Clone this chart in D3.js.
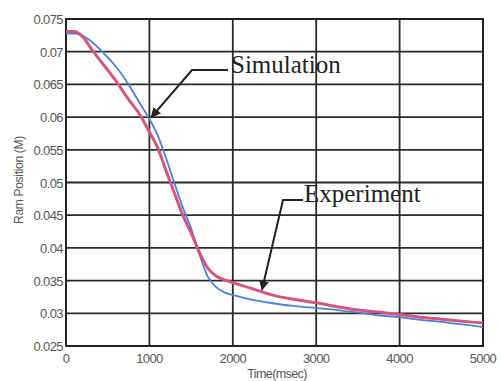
<!DOCTYPE html>
<html><head><meta charset="utf-8">
<script src="https://cdn.jsdelivr.net/npm/d3@7"></script>
<style>body{margin:0;background:#fff}svg{display:block}</style>
</head><body>
<svg id="c" width="501" height="381"></svg>
<script>
const xTicks = [0,1000,2000,3000,4000,5000];
const yTicks = [0.025,0.03,0.035,0.04,0.045,0.05,0.055,0.06,0.065,0.07,0.075];
const yTickLabels = ["0.025","0.03","0.035","0.04","0.045","0.05","0.055","0.06","0.065","0.07","0.075"];
const simTime = [0,150,300,450,600,750,900,1000,1100,1200,1300,1400,1500,1600,1700,1800,1900,2000,2250,2500,2750,3000,3250,3500,3750,4000,4250,4500,4750,5000];
const simPos  = [0.0728,0.0727,0.0716,0.0698,0.0677,0.0650,0.0618,0.0597,0.0572,0.0537,0.0499,0.0462,0.0430,0.0390,0.0356,0.0340,0.0332,0.0328,0.0320,0.0315,0.0311,0.0308,0.0305,0.0301,0.0297,0.0294,0.0290,0.0287,0.0283,0.0279];
const expTime = [0,100,200,300,450,600,750,900,1000,1100,1200,1300,1400,1500,1600,1700,1800,1900,2000,2250,2500,2750,3000,3250,3500,3750,4000,4250,4500,4750,5000];
const expPos  = [0.0731,0.0731,0.0723,0.0705,0.0680,0.0655,0.0627,0.0601,0.0577,0.0553,0.0518,0.0484,0.0450,0.0423,0.0393,0.0369,0.0357,0.0351,0.0347,0.0337,0.0327,0.0321,0.0316,0.0310,0.0305,0.0302,0.0298,0.0294,0.0291,0.0288,0.0285];
const xLabel = "Time(msec)";
const yLabel = "Ram Position (M)";
const annotations = [
  {text:"Simulation", series:"sim", t:1000},
  {text:"Experiment", series:"exp", t:2350}
];

const svg = d3.select("#c");
const L=66, R=483, T=19, B=346;
const x = d3.scaleLinear().domain([0,5000]).range([L,R]);
const y = d3.scaleLinear().domain([0.025,0.075]).range([B,T]);

const g = svg.append("g");
g.selectAll(".vg").data(xTicks).join("line")
  .attr("x1",d=>x(d)).attr("x2",d=>x(d)).attr("y1",T).attr("y2",B)
  .attr("stroke","#2a2a2a").attr("stroke-width",1.8);
g.selectAll(".hg").data(yTicks).join("line")
  .attr("y1",d=>y(d)).attr("y2",d=>y(d)).attr("x1",L).attr("x2",R)
  .attr("stroke","#2a2a2a").attr("stroke-width",1.8);
g.append("rect").attr("x",L).attr("y",T).attr("width",R-L).attr("height",B-T)
  .attr("fill","none").attr("stroke","#222").attr("stroke-width",2);

const tickFont = "Arial, 'Liberation Sans', sans-serif";
svg.append("g").selectAll("text").data(yTicks).join("text")
  .attr("x",L-3).attr("y",d=>y(d)+5)
  .attr("text-anchor","end").attr("font-family",tickFont).attr("font-size",13)
  .attr("letter-spacing",-0.6).attr("fill","#555")
  .text((d,i)=>yTickLabels[i]);
svg.append("g").selectAll("text").data(xTicks).join("text")
  .attr("x",d=>x(d)).attr("y",363)
  .attr("text-anchor","middle").attr("font-family",tickFont).attr("font-size",13)
  .attr("letter-spacing",-0.6).attr("fill","#555")
  .text(d=>d);
svg.append("text").attr("x",277).attr("y",378).attr("text-anchor","middle")
  .attr("font-family",tickFont).attr("font-size",12.5).attr("letter-spacing",-0.6)
  .attr("fill","#555").text(xLabel);
svg.append("text").attr("transform","translate(23,180) rotate(-90)").attr("text-anchor","middle")
  .attr("font-family",tickFont).attr("font-size",12).attr("letter-spacing",-0.3)
  .attr("fill","#555").text(yLabel);

const line = d3.line().x(d=>x(d[0])).y(d=>y(d[1])).curve(d3.curveMonotoneX);
const simData = simTime.map((t,i)=>[t,simPos[i]]);
const expData = expTime.map((t,i)=>[t,expPos[i]]);
svg.append("path").datum(simData).attr("d",line)
  .attr("fill","none").attr("stroke","#4d80d6").attr("stroke-width",1.8);
svg.append("path").datum(expData).attr("d",line)
  .attr("fill","none").attr("stroke","#d4557f").attr("stroke-width",3);

svg.append("defs").append("marker").attr("id","ah").attr("viewBox","0 0 10 10")
  .attr("refX",9).attr("refY",5).attr("markerWidth",5).attr("markerHeight",5)
  .attr("orient","auto").append("path").attr("d","M0,0L10,5L0,10z").attr("fill","#222");

const interp = (ts, vs, t) => { const i = d3.bisectRight(ts,t)-1; const f=(t-ts[i])/(ts[i+1]-ts[i]); return vs[i]+(vs[i+1]-vs[i])*f; };
{
  const a = annotations[0];
  const tx = x(a.t)+2, ty = y(interp(simTime,simPos,a.t))-2;
  svg.append("polyline").attr("points",`228,70 192,70 ${tx},${ty}`)
    .attr("fill","none").attr("stroke","#222").attr("stroke-width",2).attr("marker-end","url(#ah)");
  svg.append("text").attr("x",231).attr("y",73).attr("font-family","'Liberation Serif','Times New Roman',serif")
    .attr("font-size",25).attr("fill","#222").text(a.text);
}
{
  const a = annotations[1];
  const tx = x(a.t), ty = y(interp(expTime,expPos,a.t))-2;
  svg.append("polyline").attr("points",`303,200 283,200 ${tx},${ty}`)
    .attr("fill","none").attr("stroke","#222").attr("stroke-width",2).attr("marker-end","url(#ah)");
  svg.append("text").attr("x",304).attr("y",202).attr("font-family","'Liberation Serif','Times New Roman',serif")
    .attr("font-size",25).attr("fill","#222").text(a.text);
}
</script>
</body></html>
